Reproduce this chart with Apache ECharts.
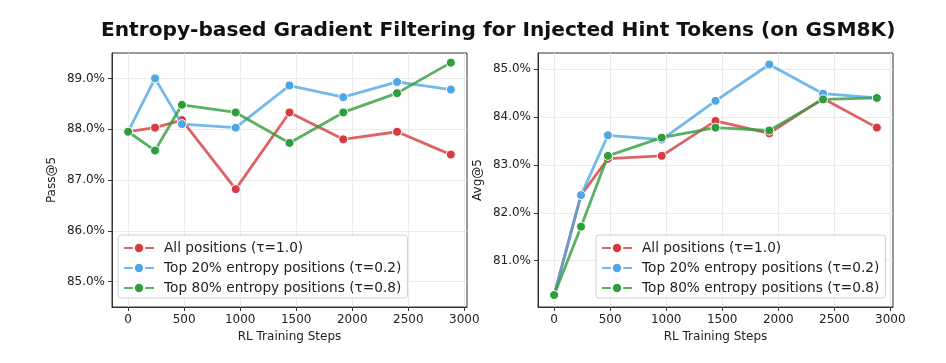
<!DOCTYPE html>
<html>
<head>
<meta charset="utf-8">
<script src="https://cdn.jsdelivr.net/npm/echarts@6/dist/echarts.min.js"></script>
<style>
html,body{margin:0;padding:0;background:#fff;}
#main{width:946px;height:363px;}
</style>
</head>
<body>
<div id="main"></div>
<script>
const steps = [0, 240, 480, 960, 1440, 1920, 2400, 2880];
const seriesNames = ['All positions (τ=1.0)', 'Top 20% entropy positions (τ=0.2)', 'Top 80% entropy positions (τ=0.8)'];
const passAll   = [87.95, 88.03, 88.18, 86.82, 88.33, 87.80, 87.95, 87.50];
const passTop20 = [87.95, 89.00, 88.10, 88.03, 88.86, 88.63, 88.93, 88.78];
const passTop80 = [87.95, 87.58, 88.48, 88.33, 87.73, 88.33, 88.71, 89.31];
const avgAll    = [80.28, 82.37, 83.13, 83.19, 83.92, 83.66, 84.39, 83.78];
const avgTop20  = [80.28, 82.37, 83.62, 83.53, 84.34, 85.10, 84.49, 84.40];
const avgTop80  = [80.28, 81.71, 83.19, 83.57, 83.78, 83.72, 84.37, 84.40];
const xTicks = [0, 500, 1000, 1500, 2000, 2500, 3000];
const passTicks = [85, 86, 87, 88, 89];
const avgTicks = [81, 82, 83, 84, 85];

const colors = ['#d63b40', '#4fa6e6', '#2f9d3b'];
const font = 'DejaVu Sans';

function mkX(gi) {
  return {
    type: 'value', gridIndex: gi, min: -144, max: 3024,
    name: 'RL Training Steps', nameLocation: 'middle', nameGap: 24,
    nameTextStyle: {fontFamily: font, fontSize: 12, color: '#222'},
    axisLine: {show: true, onZero: false, lineStyle: {color: '#333', width: 1}},
    axisTick: {show: true, length: 4, customValues: xTicks, lineStyle: {color: '#333'}},
    axisLabel: {customValues: xTicks, fontFamily: font, fontSize: 12, color: '#222', margin: 7,
      formatter: v => String(v)},
    splitLine: {show: true, lineStyle: {color: '#e6e6e6', width: 0.8}}
  };
}
function mkY(gi, name, min, max, ticks) {
  return {
    type: 'value', gridIndex: gi, min: min, max: max,
    name: name, nameLocation: 'middle', nameGap: 54,
    nameTextStyle: {fontFamily: font, fontSize: 12, color: '#222'},
    axisLine: {show: true, onZero: false, lineStyle: {color: '#333', width: 1}},
    axisTick: {show: true, length: 4, customValues: ticks, lineStyle: {color: '#333'}},
    axisLabel: {customValues: ticks, fontFamily: font, fontSize: 12, color: '#222', margin: 7,
      formatter: v => v.toFixed(1) + '%'},
    splitLine: {show: true, lineStyle: {color: '#e6e6e6', width: 0.8}}
  };
}
function mkSeries(name, data, ci, gi) {
  return {
    type: 'line', name: name, xAxisIndex: gi, yAxisIndex: gi,
    data: steps.map((s, i) => [s, data[i]]),
    symbol: 'circle', symbolSize: 9,
    lineStyle: {color: colors[ci], width: 2.8, opacity: 0.8},
    itemStyle: {color: colors[ci], borderColor: '#fff', borderWidth: 1},
    emphasis: {disabled: true}, animation: false, z: 3 + ci
  };
}
function mkLegend(left) {
  return {
    data: seriesNames, orient: 'vertical', left: left, top: 235,
    width: 300,
    itemWidth: 30, itemHeight: 13, itemGap: 6,
    padding: [6, 6, 3, 5],
    backgroundColor: 'rgba(255,255,255,0.85)', borderColor: '#d0d0d0', borderWidth: 1, borderRadius: 3,
    textStyle: {fontFamily: font, fontSize: 13.7, color: '#222', padding: [0, 0, 0, 5]}
  };
}

const chart = echarts.init(document.getElementById('main'), null, {renderer: 'canvas'});
chart.setOption({
  animation: false,
  backgroundColor: '#fff',
  title: {
    text: 'Entropy-based Gradient Filtering for Injected Hint Tokens (on GSM8K)',
    left: 96, top: 16,
    textStyle: {fontFamily: font, fontWeight: 'bold', fontSize: 20.15, color: '#111'}
  },
  grid: [
    {left: 112, top: 53, width: 355, height: 254, show: true, borderColor: '#333', borderWidth: 1, backgroundColor: 'transparent'},
    {left: 538, top: 53, width: 355, height: 254, show: true, borderColor: '#333', borderWidth: 1, backgroundColor: 'transparent'}
  ],
  xAxis: [mkX(0), mkX(1)],
  yAxis: [mkY(0, 'Pass@5', 84.5, 89.5, passTicks), mkY(1, 'Avg@5', 80.03, 85.34, avgTicks)],
  legend: [mkLegend(118), mkLegend(596)],
  series: [
    mkSeries(seriesNames[0], passAll, 0, 0),
    mkSeries(seriesNames[1], passTop20, 1, 0),
    mkSeries(seriesNames[2], passTop80, 2, 0),
    mkSeries(seriesNames[0], avgAll, 0, 1),
    mkSeries(seriesNames[1], avgTop20, 1, 1),
    mkSeries(seriesNames[2], avgTop80, 2, 1)
  ]
});
</script>
</body>
</html>
